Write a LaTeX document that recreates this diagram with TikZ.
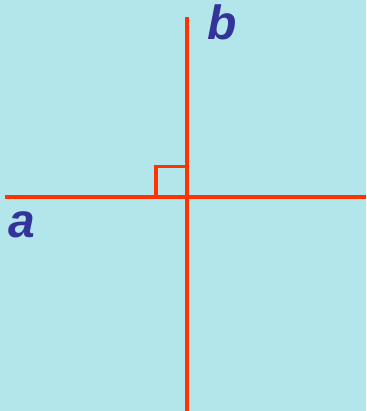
\documentclass[tikz,border=0pt]{standalone}
\usepackage{fontspec}
\setmainfont{Liberation Sans}
\definecolor{bgcyan}{RGB}{179,230,235}
\definecolor{linered}{RGB}{255,51,0}
\definecolor{labelblue}{RGB}{51,51,153}

\begin{document}
\begin{tikzpicture}[x=1pt, y=-1pt, line width=4pt,
  every node/.style={font=\fontsize{48}{48}\selectfont\bfseries\itshape, text=labelblue, inner sep=0pt}]
\fill[bgcyan] (0,0) rectangle (366,411);
\useasboundingbox (0,0) rectangle (366,411);
\coordinate (O) at (186.5,197.5);
\coordinate (aL) at (5,197.5);
\coordinate (aR) at (366,197.5);
\coordinate (bT) at (186.5,17);
\coordinate (bB) at (186.5,411);
\draw[linered] (aL) -- (aR);
\draw[linered] (bT) -- (bB);
\draw[linered, line width=3.5pt] (156,197.5) -- (156,166.5) -- (186.5,166.5);
\node[anchor=base west] (b) at (205,40) {b};
\node[anchor=base west] (a) at (7,237) {a};
\end{tikzpicture}
\end{document}
